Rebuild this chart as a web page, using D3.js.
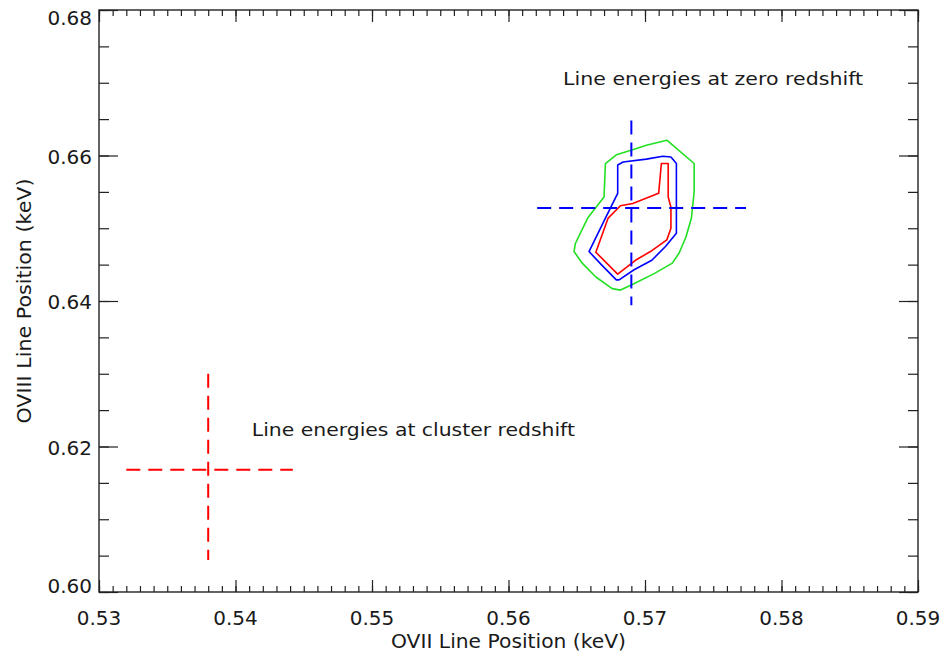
<!DOCTYPE html>
<html>
<head>
<meta charset="utf-8">
<script src="https://cdn.jsdelivr.net/npm/d3@7"></script>
<style>
  html, body { margin: 0; padding: 0; background: #fff; }
  svg { display: block; }
  text { font-family: "DejaVu Sans", sans-serif; fill: #1a1a1a; }
</style>
</head>
<body>
<svg id="chart" width="940" height="656"></svg>
<script>
// Axis ranges and tick labels (keV)
const xDomain = [0.53, 0.59];
const yDomain = [0.60, 0.68];
const xTicks = [0.53, 0.54, 0.55, 0.56, 0.57, 0.58, 0.59];
const yTicks = [0.60, 0.62, 0.64, 0.66, 0.68];
const xMinorStep = 0.001;
const yMinorStep = 0.005;

// Confidence contours of the fitted OVII / OVIII line centroids [OVII, OVIII]
const contourOuter = [
  [0.5716,0.6621],[0.5736,0.6589],[0.5736,0.6550],[0.5734,0.6514],[0.5730,0.6488],
  [0.5725,0.6466],[0.5720,0.6452],[0.5707,0.6438],[0.5690,0.6422],[0.5682,0.6415],
  [0.5676,0.6417],[0.5664,0.6433],[0.5654,0.6452],[0.5648,0.6468],[0.5649,0.6479],
  [0.5658,0.6514],[0.5670,0.6543],[0.5671,0.6589],[0.5679,0.6601],[0.5691,0.6608],
  [0.5701,0.6614]
];
const contourMiddle = [
  [0.5680,0.6587],[0.5684,0.6591],[0.5701,0.6595],[0.5713,0.6599],[0.5719,0.6598],
  [0.5723,0.6589],[0.5723,0.6493],[0.5715,0.6475],[0.5705,0.6456],[0.5692,0.6443],
  [0.5681,0.6429],[0.5679,0.6429],[0.5668,0.6450],[0.5659,0.6468],[0.5671,0.6514],
  [0.5680,0.6548]
];
const contourInner = [
  [0.5712,0.6589],[0.5717,0.6589],[0.5717,0.6543],[0.5719,0.6529],[0.5719,0.6500],
  [0.5716,0.6484],[0.5704,0.6468],[0.5693,0.6456],[0.5680,0.6437],[0.5664,0.6467],
  [0.5673,0.6514],[0.5682,0.6531],[0.5691,0.6534],[0.5710,0.6548]
];
const contours = [
  { name: "99%", color: "#22e022", points: contourOuter },
  { name: "90%", color: "#0000ff", points: contourMiddle },
  { name: "68%", color: "#ff0000", points: contourInner }
];

// Expected line energies: horizontal and vertical bars of each cross
const crosses = [
  { label: "Line energies at zero redshift", color: "#0000ff",
    x: 0.5690, y: 0.6528, xRange: [0.5621, 0.5774], yRange: [0.6394, 0.6648],
    text: [0.5640, 0.6697], textWidth: 300 },
  { label: "Line energies at cluster redshift", color: "#ff0000",
    x: 0.5380, y: 0.6168, xRange: [0.5320, 0.5442], yRange: [0.6044, 0.6300],
    text: [0.5412, 0.6215], textWidth: 323 }
];

const svg = d3.select("#chart");
const margin = { left: 99, right: 22, top: 10, bottom: 64 };
const W = 940, H = 656;
const x = d3.scaleLinear().domain(xDomain).range([margin.left, W - margin.right]);
const y = d3.scaleLinear().domain(yDomain).range([H - margin.bottom, margin.top]);
const [x0, x1] = x.range();
const [y0, y1] = y.range();

const xMinor = d3.range(xDomain[0], xDomain[1] + 1e-9, xMinorStep);
const yMinor = d3.range(yDomain[0], yDomain[1] + 1e-9, yMinorStep);

// Minor and major ticks on all four sides (ticks point inward)
function tickAxis(axisFn, scale, values, size, transform) {
  const g = svg.append("g").attr("transform", transform)
    .call(axisFn(scale).tickValues(values).tickSize(size).tickFormat(""));
  g.select(".domain").remove();
  g.selectAll(".tick line").attr("stroke", "#222").attr("stroke-width", 1.2);
  return g;
}
tickAxis(d3.axisTop, x, xMinor, 6, `translate(0,${y0})`);
tickAxis(d3.axisTop, x, xTicks, 12, `translate(0,${y0})`);
tickAxis(d3.axisBottom, x, xMinor, 6, `translate(0,${y1})`);
tickAxis(d3.axisBottom, x, xTicks, 12, `translate(0,${y1})`);
tickAxis(d3.axisRight, y, yMinor, 10, `translate(${x0},0)`);
tickAxis(d3.axisRight, y, yTicks, 19, `translate(${x0},0)`);
tickAxis(d3.axisLeft, y, yMinor, 10, `translate(${x1},0)`);
tickAxis(d3.axisLeft, y, yTicks, 19, `translate(${x1},0)`);

// Frame
svg.append("rect")
  .attr("x", x0).attr("y", y1).attr("width", x1 - x0).attr("height", y0 - y1)
  .attr("fill", "none").attr("stroke", "#222").attr("stroke-width", 1.4);

// Tick labels
svg.append("g").selectAll("text").data(xTicks).join("text")
  .attr("x", d => x(d)).attr("y", y0 + 33)
  .attr("text-anchor", "middle").attr("font-size", 20)
  .text(d => d3.format(".2f")(d));

svg.append("g").selectAll("text").data(yTicks).join("text")
  .attr("x", x0 - 7)
  .attr("y", d => Math.max(y1 + 15, Math.min(y0 + 1, y(d) + 8)))
  .attr("text-anchor", "end").attr("font-size", 20)
  .text(d => d3.format(".2f")(d));

// Axis titles
svg.append("text")
  .attr("x", (x0 + x1) / 2).attr("y", 648)
  .attr("text-anchor", "middle").attr("font-size", 19)
  .attr("textLength", 235).attr("lengthAdjust", "spacingAndGlyphs")
  .text("OVII Line Position (keV)");

svg.append("text")
  .attr("transform", `translate(31,${(y0 + y1) / 2}) rotate(-90)`)
  .attr("text-anchor", "middle").attr("font-size", 19)
  .attr("textLength", 245).attr("lengthAdjust", "spacingAndGlyphs")
  .text("OVIII Line Position (keV)");

// Contours
const line = d3.line().x(d => x(d[0])).y(d => y(d[1])).curve(d3.curveLinearClosed);
svg.append("g").selectAll("path").data(contours).join("path")
  .attr("d", d => line(d.points))
  .attr("fill", "none").attr("stroke", d => d.color).attr("stroke-width", 1.6)
  .attr("stroke-linejoin", "round");

// Dashed crosses with their labels
crosses.forEach(c => {
  const g = svg.append("g")
    .attr("stroke", c.color).attr("stroke-width", 2)
    .attr("stroke-dasharray", "14,8").attr("fill", "none");
  g.append("line")
    .attr("x1", x(c.xRange[0])).attr("x2", x(c.xRange[1]))
    .attr("y1", y(c.y)).attr("y2", y(c.y));
  g.append("line")
    .attr("x1", x(c.x)).attr("x2", x(c.x))
    .attr("y1", y(c.yRange[1])).attr("y2", y(c.yRange[0]));
  svg.append("text")
    .attr("x", x(c.text[0])).attr("y", y(c.text[1]))
    .attr("font-size", 18)
    .attr("textLength", c.textWidth).attr("lengthAdjust", "spacingAndGlyphs")
    .text(c.label);
});
</script>
</body>
</html>
